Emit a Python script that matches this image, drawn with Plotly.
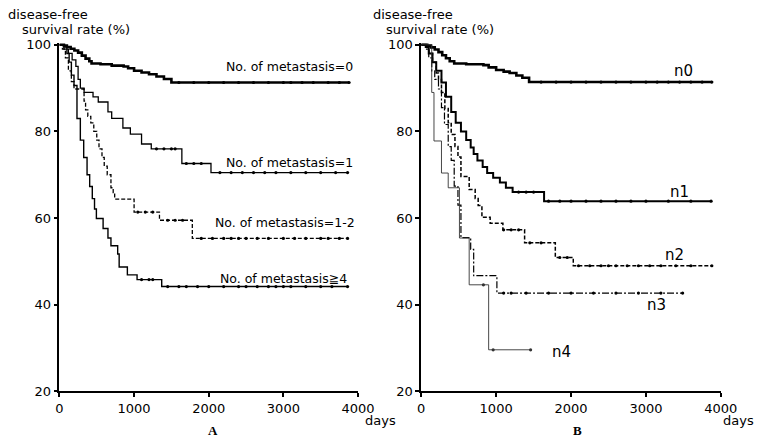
import numpy as np
import plotly.graph_objects as go

# ---------------- data ----------------
# Panel A: by number of metastases
a0_t = [0, 60, 100, 150, 200, 250, 300, 350, 400, 430, 550, 700, 860, 920, 1000, 1100, 1200, 1300, 1400, 1500, 3880]
a0_s = [100, 99.8, 99.5, 99.1, 98.7, 98.2, 97.5, 96.8, 96.2, 95.7, 95.5, 95.2, 95.0, 94.6, 94.0, 93.6, 93.2, 92.7, 92.1, 91.3, 91.3]
a0_c = [1600, 1800, 2000, 2200, 2400, 2600, 2800, 3000, 3100, 3250, 3400, 3600, 3750, 3880]

a1_t = [0, 60, 120, 170, 220, 250, 280, 330, 450, 520, 650, 700, 850, 950, 1100, 1230, 1640, 2030, 3860]
a1_s = [100, 99, 98, 96.5, 95, 92, 90, 89, 88, 86.8, 84.5, 83, 80.8, 79.4, 77.1, 76, 72.6, 70.5, 70.5]
a1_c = [1300, 1400, 1500, 1550, 1700, 1800, 1900, 2150, 2300, 2450, 2600, 2750, 2900, 3100, 3300, 3500, 3700, 3860]

a12_t = [0, 40, 80, 120, 160, 195, 330, 350, 380, 420, 460, 500, 530, 570, 600, 640, 690, 720, 740, 1000, 1340, 1780, 3860]
a12_s = [100, 99, 97, 94, 91.5, 89.8, 87, 85, 83.5, 82, 80, 78, 76, 74, 72, 70, 67, 65.9, 64.4, 61.4, 59.5, 55.3, 55.3]
a12_c = [1050, 1150, 1250, 1450, 1550, 1650, 1900, 2050, 2200, 2300, 2400, 2500, 2650, 2800, 3000, 3150, 3300, 3500, 3600, 3750, 3860]

a4_t = [0, 60, 100, 130, 160, 195, 235, 280, 325, 370, 405, 440, 470, 495, 585, 650, 690, 780, 800, 910, 1040, 1370, 3860]
a4_s = [100, 99.5, 98, 96, 93, 90.6, 83, 78, 74, 70, 67.3, 64.5, 62.1, 59.9, 57.6, 55.4, 53.6, 51.7, 48.7, 46.9, 45.8, 44.2, 44.2]
a4_c = [1100, 1200, 1250, 1450, 1600, 1700, 1850, 2000, 2200, 2400, 2500, 2650, 2800, 2900, 3000, 3100, 3300, 3500, 3650, 3860]

# Panel B: n0 .. n4
b0_t = [0, 80, 130, 180, 230, 280, 330, 380, 440, 600, 830, 900, 1000, 1100, 1180, 1270, 1350, 1440, 3880]
b0_s = [100, 99.8, 99.4, 98.9, 98.3, 97.6, 96.9, 96.2, 95.7, 95.5, 95.3, 94.8, 94.2, 93.8, 93.5, 92.9, 92.4, 91.4, 91.4]
b0_c = [1600, 1800, 2000, 2200, 2400, 2600, 2800, 3000, 3150, 3300, 3450, 3600, 3750, 3880]

b1_t = [0, 60, 100, 150, 200, 270, 330, 400, 460, 530, 600, 660, 700, 750, 820, 880, 960, 1050, 1130, 1220, 1640, 3870]
b1_s = [100, 99.5, 98, 96, 94, 91.3, 88, 84.5, 82, 80, 78, 76.3, 74.8, 73.3, 71.8, 70.4, 69.3, 68.2, 67, 66, 63.9, 63.9]
b1_c = [1300, 1400, 1500, 1700, 1850, 2000, 2200, 2400, 2600, 2800, 3000, 3300, 3600, 3870]

b2_t = [0, 60, 100, 150, 200, 230, 270, 315, 360, 400, 450, 490, 530, 640, 720, 760, 810, 920, 1090, 1380, 1790, 2030, 3880]
b2_s = [100, 99.5, 98, 96, 93.5, 92, 89, 85.3, 82, 79.3, 76.5, 74.1, 69.6, 66.6, 64.5, 62.9, 60.2, 58.8, 57.3, 54.3, 50.9, 49, 49]
b2_c = [1100, 1200, 1300, 1450, 1600, 1850, 1950, 2100, 2250, 2400, 2500, 2600, 2750, 2900, 3050, 3200, 3400, 3600, 3880]

b3_t = [0, 60, 100, 140, 180, 230, 270, 310, 360, 400, 440, 490, 530, 660, 700, 1010, 3490]
b3_s = [100, 99, 97, 94, 92, 89.8, 85.5, 81.6, 76.5, 73.3, 67.4, 63, 55.5, 52.8, 46.7, 42.7, 42.7]
b3_c = [1100, 1200, 1400, 1700, 2000, 2300, 2600, 2900, 3200, 3490]

b4_t = [0, 140, 170, 270, 360, 510, 640, 900, 1460]
b4_s = [100, 89, 77.8, 70.4, 67, 55.4, 44.6, 29.6, 29.6]
b4_c = [830, 960, 1460]

y_ticks = [20, 40, 60, 80, 100]
x_ticks = [0, 1000, 2000, 3000, 4000]

labels_a = ["No. of metastasis=0", "No. of metastasis=1", "No. of metastasis=1-2", "No. of metastasis≧4"]
labels_b = ["n0", "n1", "n2", "n3", "n4"]

# ---------------- figure ----------------
W, H = 767, 445
FONT = "DejaVu Sans, Verdana, sans-serif"


def px_x(p):
    return p / W


def px_y(p):
    return 1 - p / H


fig = go.Figure()


def add_curve(t, s, c, xa, ya, width, dash, color="black"):
    fig.add_trace(go.Scatter(x=t, y=s, mode="lines", line=dict(shape="hv", width=width, dash=dash, color=color),
                             xaxis=xa, yaxis=ya, showlegend=False, hoverinfo="skip"))
    ta = np.asarray(t)
    sa = np.asarray(s)
    idx = np.searchsorted(ta, np.asarray(c), side="right") - 1
    fig.add_trace(go.Scatter(x=c, y=sa[idx], mode="markers",
                             marker=dict(symbol="circle", size=3.2, color=color, line=dict(width=0)),
                             xaxis=xa, yaxis=ya, showlegend=False, hoverinfo="skip", cliponaxis=False))


add_curve(a0_t, a0_s, a0_c, "x", "y", 2.6, "solid")
add_curve(a1_t, a1_s, a1_c, "x", "y", 1.3, "solid")
add_curve(a12_t, a12_s, a12_c, "x", "y", 1.3, "4px,2px")
add_curve(a4_t, a4_s, a4_c, "x", "y", 1.4, "solid")

add_curve(b0_t, b0_s, b0_c, "x2", "y2", 2.6, "solid")
add_curve(b1_t, b1_s, b1_c, "x2", "y2", 2.0, "solid")
add_curve(b2_t, b2_s, b2_c, "x2", "y2", 1.5, "4px,2px")
add_curve(b3_t, b3_s, b3_c, "x2", "y2", 1.2, "7px,2px,2px,2px")
add_curve(b4_t, b4_s, b4_c, "x2", "y2", 0.9, "solid", "#333333")

YTOP = 41 - 0.5 * 357 / 80  # pixel of y=100.5
ydom = [px_y(398), px_y(YTOP)]

axis_common = dict(showgrid=False, zeroline=False, showline=True, linecolor="black", linewidth=1.6,
                   ticks="outside", ticklen=4, tickwidth=1.6, tickcolor="black",
                   tickfont=dict(family=FONT, size=13, color="black"), mirror=False)

fig.update_layout(
    width=W, height=H, margin=dict(l=0, r=0, t=0, b=0),
    paper_bgcolor="white", plot_bgcolor="white",
    xaxis=dict(domain=[px_x(57), px_x(364)], range=[0, 4000], tickvals=x_ticks, anchor="y", **axis_common),
    yaxis=dict(domain=ydom, range=[20, 100.5], tickvals=y_ticks, anchor="x", **axis_common),
    xaxis2=dict(domain=[px_x(429), px_x(737)], range=[0, 4000], tickvals=x_ticks, anchor="y2", **axis_common),
    yaxis2=dict(domain=ydom, range=[20, 100.5], tickvals=y_ticks, anchor="x2", **axis_common),
)

ann = []


def txt(x, y, s, size=13, xanchor="left", family=FONT, **kw):
    ann.append(dict(x=px_x(x), y=px_y(y), xref="paper", yref="paper", text=s, showarrow=False,
                    xanchor=xanchor, yanchor="middle", borderpad=0,
                    font=dict(family=family, size=size, color="black"), **kw))


# y-axis titles
for ox in (0, 375):
    txt(3 + ox, 9.5, "disease-free")
    txt(17 + ox, 25, "survival rate (%)")
# days
txt(370, 428, "days")
txt(738, 428, "days")
# panel letters
txt(215, 438, "<b>A</b>", size=13, xanchor="center", family="Liberation Serif, Times New Roman, serif")
txt(590, 438, "<b>B</b>", size=13, xanchor="center", family="Liberation Serif, Times New Roman, serif")
# curve labels panel A
a_pos = [(360, 63), (360, 162), (362, 224), (354, 282)]
for (x, y), s in zip(a_pos, labels_a):
    txt(x, y, s, size=12.5, xanchor="right")
# curve labels panel B
b_pos = [(699, 68), (695, 193), (689, 258), (671, 309), (573, 357)]
for (x, y), s in zip(b_pos, labels_b):
    txt(x, y, s, size=15, xanchor="center")

fig.update_layout(annotations=ann)
fig.write_html("out.html", config={"displayModeBar": False},
               post_script="document.body.style.margin='0px';document.body.style.overflow='hidden';")
